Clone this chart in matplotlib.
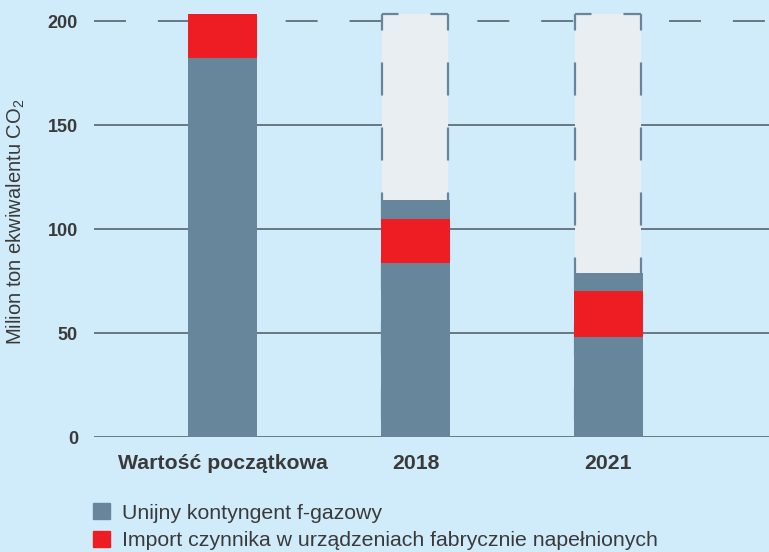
import matplotlib.pyplot as plt
from matplotlib.patches import Patch

plt.rcParams['font.family'] = ['Liberation Sans', 'DejaVu Sans']
plt.rcParams['mathtext.fontset'] = 'custom'
plt.rcParams['mathtext.rm'] = 'Liberation Sans'
plt.rcParams['lines.scale_dashes'] = False

# Data
categories = ['Wartość początkowa', '2018', '2021']
quota_base = [182, 83.5, 48]        # grey, lower part
import_share = [21.5, 21.3, 22]     # red
quota_upper = [0, 9.2, 8.8]         # grey, upper part
ceiling = [0, 203.5, 203.5]         # dashed target box (0 = none)
yticks = [0, 50, 100, 150, 200]

legend_labels = ['Unijny kontyngent f-gazowy',
                 'Import czynnika w urządzeniach fabrycznie napełnionych']

# Colours
bg = '#d0ecfa'
grey = '#67869b'
red = '#ee1d24'
light = '#e9eef2'
grid_c = '#4d5963'
text_c = '#3a3a3a'

fig = plt.figure(figsize=(7.69, 5.52), dpi=100, facecolor=bg)
ax = fig.add_axes([94 / 769, 115 / 552, 675 / 769, 207 * 2.08 / 552])
ax.set_facecolor(bg)

x = list(range(len(categories)))
bar_w = 0.357
box_w = 0.342

# gridlines (top one dashed)
for t in yticks:
    ls = (0, (23, 23)) if t == yticks[-1] else '-'
    ax.axhline(t, color=grid_c, lw=1.1, ls=ls, zorder=0.5)

# target boxes with dashed outline
for i, top in enumerate(ceiling):
    if not top:
        continue
    ax.bar(i, top, width=box_w, color=light, zorder=1)
    left, right = i - box_w / 2, i + box_w / 2
    dash = (11.9, (23.8, 23))
    for xs, ys in [([left, left], [top, 0]), ([right, right], [top, 0]),
                   ([left, right], [top, top])]:
        ax.plot(xs, ys, color=grey, lw=1.6, ls=dash, zorder=2,
                solid_capstyle='butt', dash_capstyle='butt')

# stacked bars
bottom2 = [a + b for a, b in zip(quota_base, import_share)]
ax.bar(x, quota_base, width=bar_w, color=grey, zorder=3)
ax.bar(x, import_share, width=bar_w, bottom=quota_base, color=red, zorder=3)
ax.bar(x, quota_upper, width=bar_w, bottom=bottom2, color=grey, zorder=3)

ax.set_xlim(-0.666, 2.832)
ax.set_ylim(0, 207)
ax.set_yticks(yticks)
ax.set_xticks(x)
ax.set_xticklabels(categories, fontsize=15.3, fontweight='bold', color=text_c)
ax.set_yticklabels([str(t) for t in yticks], fontsize=13, fontweight='bold',
                   color=text_c)
ax.tick_params(axis='y', length=0, pad=11.5)
ax.tick_params(axis='x', length=0, pad=12)
for s in ax.spines.values():
    s.set_visible(False)

fig.text(16 / 769, 1 - 222 / 552, 'Milion ton ekwiwalentu CO$_2$',
         rotation=90, ha='center', va='center', fontsize=14.5, color=text_c)

handles = [Patch(color=grey), Patch(color=red)]
fig.legend(handles, legend_labels, loc='upper left',
           bbox_to_anchor=(93 / 769, (552 - 503) / 552), frameon=False,
           fontsize=15.3, labelcolor=text_c, borderpad=0, borderaxespad=0,
           handlelength=0.8, handleheight=0.8, handletextpad=0.55,
           labelspacing=0.38)

fig.savefig('out.png', dpi=100, facecolor=bg)
